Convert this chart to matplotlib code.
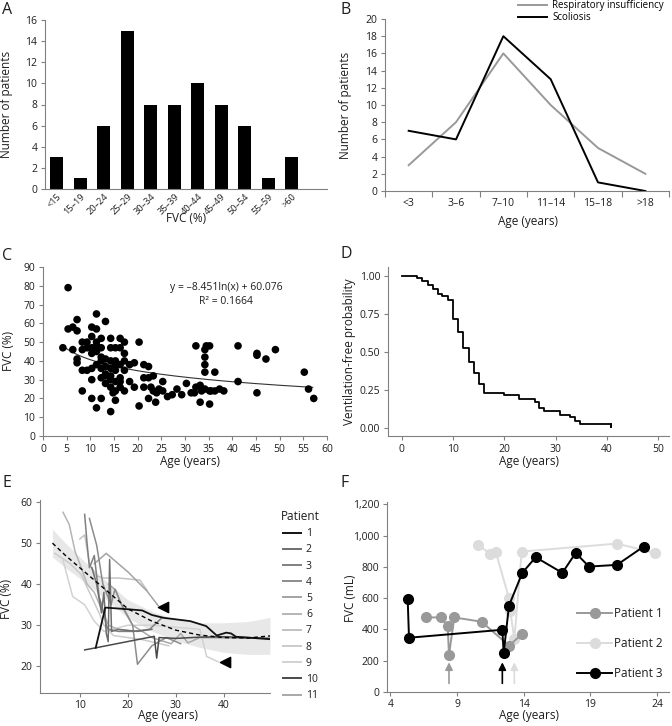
import matplotlib
matplotlib.use('Agg')
import matplotlib.pyplot as plt
import numpy as np
from matplotlib.lines import Line2D
from matplotlib.ticker import FuncFormatter, FixedLocator

plt.rcParams['font.family'] = ['Open Sans', 'DejaVu Sans']

# ---------------- data ----------------
# Panel A
a_cats = ['<15', '15–19', '20–24', '25–29', '30–34', '35–39', '40–44', '45–49', '50–54', '55–59', '>60']
a_counts = [3, 1, 6, 15, 8, 8, 10, 8, 6, 1, 3]

# Panel B
b_cats = ['<3', '3–6', '7–10', '11–14', '15–18', '>18']
b_resp = [3, 8, 16, 10, 5, 2]
b_scol = [7, 6, 18, 13, 1, 0]

# Panel C
c_points = [
    (4.2, 47), (5.3, 79), (5.3, 57), (6.3, 46), (6.3, 58), (7.2, 62), (7.2, 56), (7.2, 41), (7.2, 39),
    (8.3, 50), (8.3, 46), (8.3, 35), (8.3, 24), (9.3, 50), (9.3, 47), (9.3, 35),
    (10.3, 58), (10.3, 53), (10.3, 47), (10.3, 44), (10.3, 36), (10.3, 30), (10.3, 20),
    (11.3, 65), (11.3, 57), (11.3, 50), (11.3, 45), (11.3, 38), (11.3, 15), (11.3, 48),
    (12.3, 52), (12.3, 47), (12.3, 42), (12.3, 36), (12.3, 31), (12.3, 20), (12.3, 40),
    (13.2, 61), (13.2, 41), (13.2, 37), (13.2, 32), (13.2, 28), (13.2, 33),
    (14.3, 52), (14.3, 47), (14.3, 40), (14.3, 36), (14.3, 32), (14.3, 26), (14.3, 13), (14.3, 30),
    (15.3, 47), (15.3, 40), (15.3, 35), (15.3, 29), (15.3, 24), (15.3, 19), (15.3, 38), (14.8, 23),
    (16.3, 52), (16.3, 47), (16.3, 38), (16.3, 31), (16.3, 26), (16.3, 29),
    (17.2, 50), (17.2, 44), (17.2, 35), (17.2, 24), (17.2, 40),
    (18.3, 38), (18.3, 29), (19.3, 39), (19.3, 26), (20.3, 50), (20.3, 16),
    (21.3, 38), (21.3, 31), (21.3, 26), (22.3, 37), (22.3, 31), (22.3, 20), (22.8, 26),
    (23.3, 32), (23.3, 24), (23.8, 18), (24.5, 25), (24.0, 23), (25.3, 29), (25.3, 24),
    (26.3, 21), (27.3, 22), (28.3, 25), (29.3, 22), (30.3, 28), (31.3, 23), (32.0, 23),
    (32.3, 48), (32.3, 26), (33.2, 18), (33.2, 27), (33.5, 24),
    (34.2, 46), (34.5, 48), (34.2, 42), (34.2, 38), (34.2, 34), (34.2, 25),
    (35.2, 48), (35.2, 17), (35.2, 24), (35.5, 24), (36.3, 34), (36.3, 24), (37.3, 25), (38.2, 24),
    (41.2, 48), (41.2, 29), (45.2, 44), (45.2, 43), (45.2, 23), (47.1, 41), (49.1, 46),
    (55.2, 34), (56.1, 25), (57.2, 20),
]
c_coef_a = -8.451
c_coef_b = 60.076

# Panel D (Kaplan-Meier)
d_time = [0, 2.9, 4.0, 5.1, 6.0, 7.0, 7.9, 9.0, 9.9, 10.9, 11.9, 13.0, 14.0, 15.0, 16.0,
          20.0, 22.9, 26.0, 26.8, 27.7, 30.8, 32.8, 33.7, 34.7, 40.8]
d_surv = [1.0, 0.989, 0.967, 0.943, 0.917, 0.884, 0.869, 0.845, 0.72, 0.632, 0.527, 0.435,
          0.365, 0.29, 0.23, 0.215, 0.193, 0.173, 0.133, 0.112, 0.088, 0.07, 0.048, 0.026, 0.005]

# Panel E
e_age_1 = [13.3, 15.3, 16.5, 20, 23, 25, 27.5, 33, 36.3, 38.5, 40.5, 41.5, 42.5, 49.6]
e_fvc_1 = [24.5, 34.3, 34.2, 33.9, 33.6, 32.5, 31.8, 31.0, 29.8, 27.5, 28.2, 28.0, 27.2, 26.6]
e_age_2 = [12.5, 13.5, 14.5, 15.0, 15.5, 15.9, 16.2, 16.6, 18, 22, 25]
e_fvc_2 = [44, 40, 33, 38, 28, 26, 46, 28.5, 29, 28.5, 29]
e_age_3 = [11, 11.5, 12, 13, 14, 14.5, 15, 15.5, 16, 18, 21, 24.5, 27]
e_fvc_3 = [57, 50, 44, 47, 37, 35, 33, 30, 29, 28.5, 28.5, 29, 31.7]
e_age_4 = [12, 13.5, 14.8, 16.5, 17.3, 18.5, 21, 22, 25, 28, 31]
e_fvc_4 = [56, 49.5, 40, 35, 38.8, 35.5, 30, 20.5, 25, 27, 25.5]
e_age_5 = [13, 15.5, 20, 24, 26.3]
e_fvc_5 = [45, 47.5, 43, 38.3, 34.8]
e_age_6 = [6.5, 7.8, 9, 10.3, 11.5, 13, 14.5, 16, 18, 21]
e_fvc_6 = [57.5, 54.5, 48, 44, 40, 38, 34, 30, 29, 28.5]
e_age_7 = [10, 11, 12, 13.5, 15, 18, 22.5, 24]
e_fvc_7 = [51, 52, 45, 42, 41.5, 41.5, 41, 38.5]
e_age_8 = [4.8, 8, 10.3, 12, 14, 15, 17, 20, 23, 28.5]
e_fvc_8 = [47.5, 45, 42.3, 38, 33, 30, 27.5, 27, 26.5, 25]
e_age_9 = [6.5, 8.5, 11, 13, 15, 20, 25, 30, 35, 36.4, 38.8]
e_fvc_9 = [45.8, 37, 35, 31, 28.5, 30, 30, 29.5, 29, 22.4, 21.1]
e_age_10 = [11, 13.3, 25.5, 26, 26.5, 30, 35, 40, 49.6]
e_fvc_10 = [24, 24.5, 27.3, 22, 27, 26.8, 27.1, 27.2, 26.8]
e_age_11 = [16, 17.5, 19, 21, 25, 29, 31, 32.5, 35, 45]
e_fvc_11 = [40, 38.5, 34, 30, 27, 25.5, 28, 25.7, 27, 26.8]
e_trend_age = [4.3, 7, 10, 14, 17, 20, 25, 30, 35, 40, 45, 49.6]
e_trend_fvc = [50, 47, 44, 40, 37, 34, 31, 28.8, 27.6, 27.0, 26.9, 27.4]
e_band_half = [3.4, 3.0, 2.6, 2.3, 2.2, 2.2, 2.4, 2.6, 3.0, 3.6, 4.0, 4.5]
e_tri_age = [27.3, 40.3]
e_tri_fvc = [34.5, 21.0]

# Panel F
f_age_1 = [6.7, 7.8, 8.3, 8.4, 8.8, 10.85, 12.9, 13.9]
f_fvc_1 = [477, 477, 419, 238, 477, 449, 296, 372]
f_age_2 = [10.55, 11.5, 11.9, 12.9, 13.0, 13.3, 13.85, 21.0, 23.85]
f_fvc_2 = [943, 883, 898, 600, 517, 336, 898, 949, 889]
f_age_3 = [5.3, 5.4, 12.4, 12.5, 12.9, 13.9, 14.9, 16.9, 17.9, 18.9, 21.0, 23.0]
f_fvc_3 = [596, 347, 398, 249, 553, 762, 862, 762, 889, 802, 813, 930]
f_arrow_age = [8.4, 12.4, 13.3]

# ---------------- figure ----------------
W, H = 672, 726
fig = plt.figure(figsize=(W / 100, H / 100), dpi=100)
TXT = '#1e1e1e'
SP = '#808080'
FS_T = 7.5
FS_L = 8.5


def ax_px(x0, y0, x1, y1):
    a = fig.add_axes([x0 / W, 1 - y1 / H, (x1 - x0) / W, (y1 - y0) / H])
    for s in ['top', 'right']:
        a.spines[s].set_visible(False)
    for s in ['left', 'bottom']:
        a.spines[s].set_color(SP)
        a.spines[s].set_linewidth(0.8)
    a.tick_params(colors=SP, labelcolor=TXT, labelsize=FS_T, length=3, width=0.8, pad=2.5)
    a.patch.set_alpha(0)
    return a


def ftext(x, y, s, **kw):
    kw.setdefault('fontsize', FS_L)
    kw.setdefault('color', TXT)
    return fig.text(x / W, 1 - y / H, s, **kw)


def letter(x, y, s):
    ftext(x, y, s, fontsize=11.5, ha='left', va='center')


# ---- A ----
axA = ax_px(45, 20, 327, 189)
xa = np.arange(len(a_cats))
axA.bar(xa, a_counts, width=0.57, color='black')
axA.set_xlim(-0.5, 11.5)
axA.set_ylim(0, 16)
axA.set_yticks(range(0, 17, 2))
axA.set_xticks(xa)
axA.set_xticklabels(a_cats, rotation=45, ha='right', rotation_mode='anchor', fontsize=6.6)
axA.tick_params(axis='x', length=0, pad=2)
letter(2, 10, 'A')
ftext(7, 104, 'Number of patients', rotation=90, ha='center', va='center')
ftext(186, 218, 'FVC (%)', ha='center', va='center')

# ---- B ----
axB = ax_px(385, 19, 669, 191)
xb = np.arange(len(b_cats)) + 0.5
axB.plot(xb, b_resp, color='#999999', lw=1.4, label='Respiratory insufficiency')
axB.plot(xb, b_scol, color='black', lw=1.4, label='Scoliosis')
axB.set_xlim(0, 6)
axB.set_ylim(0, 20)
axB.set_yticks(range(0, 21, 2))
axB.set_xticks(range(0, 7))
axB.set_xticklabels([])
axB.xaxis.set_minor_locator(FixedLocator(xb))
axB.set_xticklabels(b_cats, minor=True)
axB.tick_params(axis='x', which='minor', length=0, pad=5, labelsize=FS_T, labelcolor=TXT)
axB.tick_params(axis='x', which='major', length=4)
axB.legend(loc='upper left', bbox_to_anchor=(518 / W, 1 - 0 / H), bbox_transform=fig.transFigure,
           frameon=False, fontsize=7, handlelength=3.0, handletextpad=0.5, labelspacing=0.15,
           borderpad=0, borderaxespad=0)
letter(341, 10, 'B')
ftext(346, 105, 'Number of patients', rotation=90, ha='center', va='center')
ftext(528, 222, 'Age (years)', ha='center', va='center')

# ---- C ----
axC = ax_px(43, 267, 327, 436)
c_age = [p[0] for p in c_points]
c_fvc = [p[1] for p in c_points]
axC.scatter(c_age, c_fvc, s=30, color='black', edgecolors='none', zorder=3)
xt = np.linspace(4, 57, 200)
axC.plot(xt, c_coef_a * np.log(xt) + c_coef_b, color='#333333', lw=0.8, zorder=2)
axC.set_xlim(0, 60)
axC.set_ylim(0, 90)
axC.set_xticks(range(0, 61, 5))
axC.set_yticks(range(0, 91, 10))
axC.text(38.7, 79, 'y = –8.451ln(x) + 60.076', fontsize=FS_T, ha='center', va='center', color=TXT)
axC.text(38.7, 71.5, 'R² = 0.1664', fontsize=FS_T, ha='center', va='center', color=TXT)
letter(2, 256, 'C')
ftext(9, 351, 'FVC (%)', rotation=90, ha='center', va='center')
ftext(190, 461, 'Age (years)', ha='center', va='center')

# ---- D ----
axD = ax_px(388, 267, 669, 436)
axD.step(d_time, d_surv, where='post', color='black', lw=1.3)
axD.plot([d_time[-1], d_time[-1]], [d_surv[-2], d_surv[-1]], color='black', lw=1.3)
axD.set_xlim(-2.7, 52.1)
axD.set_ylim(-0.053, 1.06)
axD.set_xticks(range(0, 51, 10))
axD.set_yticks([0, 0.25, 0.5, 0.75, 1.0])
axD.yaxis.set_major_formatter(FuncFormatter(lambda v, p: f'{v:.2f}'))
letter(341, 254, 'D')
ftext(349, 352, 'Ventilation-free probability', rotation=90, ha='center', va='center')
ftext(529, 461, 'Age (years)', ha='center', va='center')

# ---- E ----
axE = ax_px(40, 500, 270, 693)
tr_a = np.array(e_trend_age)
tr_f = np.array(e_trend_fvc)
hw = np.array(e_band_half)
axE.fill_between(tr_a, tr_f - hw, tr_f + hw, color='#e8e8e8', lw=0, zorder=1)
e_ages = [e_age_1, e_age_2, e_age_3, e_age_4, e_age_5, e_age_6, e_age_7, e_age_8, e_age_9, e_age_10, e_age_11]
e_fvcs = [e_fvc_1, e_fvc_2, e_fvc_3, e_fvc_4, e_fvc_5, e_fvc_6, e_fvc_7, e_fvc_8, e_fvc_9, e_fvc_10, e_fvc_11]
e_cols = ['#111111', '#6e6e6e', '#808080', '#8c8c8c', '#a3a3a3', '#b5b5b5', '#c2c2c2',
          '#cbcbcb', '#d2d2d2', '#4a4a4a', '#a8a8a8']
order = [8, 7, 6, 5, 10, 4, 3, 2, 1, 9, 0]
for i in order:
    axE.plot(e_ages[i], e_fvcs[i], color=e_cols[i], lw=1.1 if i != 0 else 1.3, zorder=2)
axE.plot(tr_a, tr_f, color='black', lw=1.0, ls=(0, (3, 2.2)), zorder=4)
axE.scatter(e_tri_age, e_tri_fvc, marker='<', s=55, color='black', zorder=5)
axE.set_xlim(1.7, 49.6)
axE.set_ylim(13.5, 60.5)
axE.set_xticks([10, 20, 30, 40])
axE.set_yticks([20, 30, 40, 50, 60])
axE.tick_params(axis='x', pad=2)
handles = [Line2D([], [], color=c, lw=1.4) for c in e_cols]
legE = axE.legend(handles, [str(i) for i in range(1, 12)], title='Patient', loc='upper left',
                  bbox_to_anchor=(281 / W, 1 - 510 / H), bbox_transform=fig.transFigure,
                  frameon=False, fontsize=FS_T, title_fontsize=FS_L, handlelength=1.7,
                  handletextpad=0.5, labelspacing=0.5, borderpad=0, borderaxespad=0)
for t in legE.get_texts():
    t.set_color(TXT)
legE.get_title().set_color(TXT)
letter(2, 483, 'E')
ftext(7, 599, 'FVC (%)', rotation=90, ha='center', va='center')
ftext(168, 716, 'Age (years)', ha='center', va='center')

# ---- F ----
axF = ax_px(387, 502, 669, 692)
f_cols = ['#999999', '#dcdcdc', 'black']
for ag, fv, c, z in [(f_age_2, f_fvc_2, f_cols[1], 2), (f_age_1, f_fvc_1, f_cols[0], 3), (f_age_3, f_fvc_3, f_cols[2], 4)]:
    axF.plot(ag, fv, color=c, lw=1.4, marker='o', ms=7, zorder=z)
for a_, c in zip(f_arrow_age, [f_cols[0], 'black', f_cols[1]]):
    axF.annotate('', xy=(a_, 190), xytext=(a_, 55),
                 arrowprops=dict(arrowstyle='-|>', color=c, lw=1.2, mutation_scale=11, shrinkA=0, shrinkB=0))
axF.set_xlim(3.75, 24.9)
axF.set_ylim(0, 1215)
axF.set_xticks([4, 9, 14, 19, 24])
axF.set_yticks(range(0, 1201, 200))
axF.yaxis.set_major_formatter(FuncFormatter(lambda v, p: f'{int(v):,}'))
axF.tick_params(axis='x', pad=2)
fh = [Line2D([], [], color=c, lw=1.4, marker='o', ms=7) for c in f_cols]
legF = axF.legend(fh, ['Patient 1', 'Patient 2', 'Patient 3'], loc='upper left',
                  bbox_to_anchor=(577 / W, 1 - 607 / H), bbox_transform=fig.transFigure,
                  frameon=False, fontsize=FS_L, handlelength=3.0, handletextpad=0.15,
                  labelspacing=1.45, borderpad=0, borderaxespad=0)
for t in legF.get_texts():
    t.set_color(TXT)
letter(341, 483, 'F')
ftext(350, 598, 'FVC (mL)', rotation=90, ha='center', va='center')
ftext(529, 716, 'Age (years)', ha='center', va='center')

fig.savefig('out.png', dpi=100)
